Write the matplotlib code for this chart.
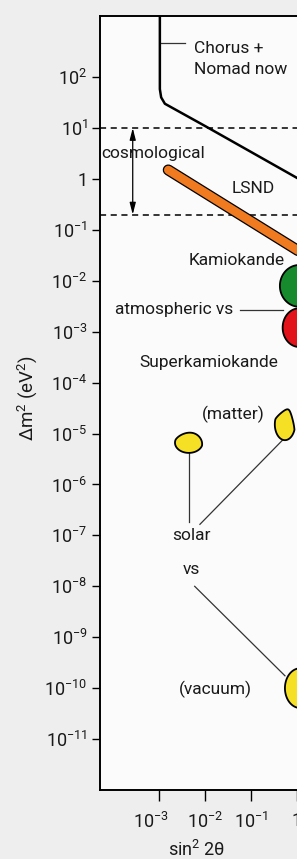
import numpy as np
import matplotlib

matplotlib.use("Agg")
import matplotlib.pyplot as plt
from matplotlib.transforms import ScaledTranslation

plt.rcParams["font.family"] = ["Roboto", "DejaVu Sans"]
plt.rcParams["mathtext.fontset"] = "custom"
plt.rcParams["mathtext.rm"] = "Roboto"
plt.rcParams["mathtext.it"] = "Roboto:italic"

# exclusion curve (Chorus + Nomad)
chorus_x = [1.05e-3, 1.05e-3, 1.12e-3, 1.35e-3, 1e-2, 1e-1, 1.0, 2.2]
chorus_y = [2000, 58, 40, 30, 11, 3.4, 1.05, 0.69]

# LSND band end points
lsnd_x = [1.6e-3, 2.2]
lsnd_y = [1.5, 0.026]

# cosmological window
cosmo_lo, cosmo_hi = 0.2, 10.0

# allowed regions: log10 centre (x, y), log half widths (x, y), tilt, top pinch, colour
regions = ["Kamiokande", "Superkamiokande", "matter", "solar small", "vacuum"]
reg_cx = [0.05, 0.05, -0.26, -2.35, 0.07]
reg_cy = [-2.1, -2.92, -4.82, -5.18, -10.0]
reg_wx = [0.42, 0.36, 0.22, 0.30, 0.33]
reg_wy = [0.41, 0.38, 0.31, 0.20, 0.39]
reg_tilt = [0.0, 0.0, -0.35, -0.3, 0.0]
reg_pinch = [0.0, 0.0, 0.5, 0.15, 0.0]
reg_col = ["#168a2c", "#e3131b", "#f6e026", "#f6e026", "#f6e026"]

# leader lines (xs, ys)
leaders = [
    ([1.05e-3, 3.7e-3], [470, 470]),
    ([5.7e-2, 0.5], [2.7e-3, 2.7e-3]),
    ([4.5e-3, 4.5e-3], [4.2e-6, 1.8e-7]),
    ([0.5, 7.8e-3], [7.6e-6, 1.65e-7]),
    ([6.0e-3, 0.55], [1.0e-8, 1.75e-10]),
]

labels = [
    ("cosmological", 7.4e-4, 3.1, "center"),
    ("LSND", 0.11, 0.66, "center"),
    ("Kamiokande", 0.55, 0.0245, "right"),
    ("atmospheric \u03bds", 0.041, 2.7e-3, "right"),
    ("Superkamiokande", 0.39, 2.45e-4, "right"),
    ("(matter)", 0.041, 2.35e-5, "center"),
    ("solar", 5.2e-3, 1.0e-7, "center"),
    ("\u03bds", 5.0e-3, 2.1e-8, "center"),
    ("(vacuum)", 1.66e-2, 0.95e-10, "center"),
]

y_ticks = [10.0 ** k for k in range(2, -12, -1)]
y_ticklabels = ["$10^{%d}$" % k if k != 0 else "1" for k in range(2, -12, -1)]
x_ticks = [1e-3, 1e-2, 1e-1, 1.0]
x_ticklabels = ["$10^{-3}$", "$10^{-2}$", "$10^{-1}$", "1"]


def blob(cx, cy, wx, wy, tilt, pinch, n=90):
    t = np.linspace(0, 2 * np.pi, n)
    u = wx * np.cos(t) * (1 - pinch * np.clip(np.sin(t), 0, None))
    v = wy * np.sin(t)
    un, vn = u / wx, v / wy
    lx = cx + wx * (un * np.cos(tilt) - vn * np.sin(tilt))
    ly = cy + wy * (un * np.sin(tilt) + vn * np.cos(tilt))
    return 10 ** lx, 10 ** ly


fig = plt.figure(figsize=(2.97, 8.59), dpi=100, facecolor="#eeeeee")
ax = fig.add_axes([100 / 297, 69 / 859, 213 / 297, 774 / 859], facecolor="#fbfbfb")
ax.set_xscale("log")
ax.set_yscale("log")
ax.set_xlim(10 ** -4.28, 10 ** 0.35)
ax.set_ylim(1e-12, 10 ** 3.2)

for (lx, ly) in leaders:
    ax.plot(lx, ly, color="#333333", lw=0.9, zorder=2)

ax.plot(chorus_x, chorus_y, color="black", lw=1.8, zorder=3)

ax.plot(lsnd_x, lsnd_y, color="black", lw=8.0, solid_capstyle="round", zorder=3)
ax.plot(lsnd_x, lsnd_y, color="#f07a1f", lw=6.2, solid_capstyle="round", zorder=4)

for yv in (cosmo_lo, cosmo_hi):
    ax.axhline(yv, color="black", lw=1.1, ls=(0, (4, 3)), zorder=2)
ax.annotate("", xy=(2.7e-4, cosmo_hi), xytext=(2.7e-4, cosmo_lo),
            arrowprops=dict(arrowstyle="<|-|>,head_width=0.18,head_length=0.7",
                            color="black", lw=0.9, shrinkA=0, shrinkB=0), zorder=2)

for i in range(len(regions)):
    bx, by = blob(reg_cx[i], reg_cy[i], reg_wx[i], reg_wy[i], reg_tilt[i], reg_pinch[i])
    ax.fill(bx, by, facecolor=reg_col[i], edgecolor="black", lw=1.3, zorder=5)

ax.text(5.8e-3, 230, "Chorus +\nNomad now", ha="left", va="center", fontsize=12.5,
        color="#1a1a1a", linespacing=1.5, zorder=6)
for text, tx, ty, ha in labels:
    ax.text(tx, ty, text, ha=ha, va="center", fontsize=12.5, color="#1a1a1a", zorder=6)

ax.set_yticks(y_ticks)
ax.set_yticklabels(y_ticklabels)
ax.set_xticks(x_ticks)
ax.set_xticklabels(x_ticklabels)
ax.minorticks_off()
ax.tick_params(axis="y", direction="out", length=6, width=1.0, pad=3,
               labelsize=13, labelcolor="#1a1a1a")
ax.tick_params(axis="x", direction="out", length=8, width=1.0, pad=8,
               labelsize=13, labelcolor="#1a1a1a")

# first x label sits a little left of its tick in the original
first = ax.get_xticklabels()[0]
first.set_transform(first.get_transform() + ScaledTranslation(-0.08, 0, fig.dpi_scale_trans))

for side in ("left", "bottom", "top"):
    ax.spines[side].set_linewidth(1.4)
ax.spines["right"].set_visible(False)

fig.text(27 / 297, 1 - 398 / 859, "\u0394m$^2$ (eV$^2$)", rotation=90,
         ha="center", va="center", fontsize=13.5, color="#1a1a1a")
fig.text(197 / 297, 1 - 850 / 859, "sin$^2$ 2\u03b8", ha="center", va="center",
         fontsize=13, color="#1a1a1a")

fig.savefig("out.png", dpi=100, facecolor=fig.get_facecolor())
